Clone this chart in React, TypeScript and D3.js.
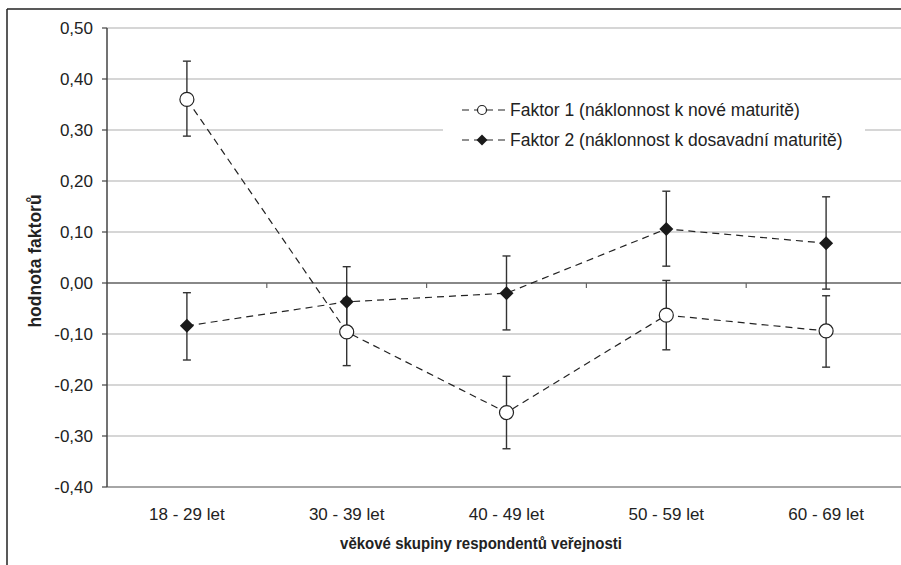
import React from 'react';
import * as d3 from 'd3';

const categories = ['18 - 29 let', '30 - 39 let', '40 - 49 let', '50 - 59 let', '60 - 69 let'];
const factor1 = [0.36, -0.096, -0.254, -0.063, -0.094];
const factor1Low = [0.288, -0.162, -0.325, -0.131, -0.165];
const factor1High = [0.435, -0.03, -0.183, 0.005, -0.025];
const factor2 = [-0.084, -0.037, -0.02, 0.106, 0.078];
const factor2Low = [-0.151, -0.106, -0.092, 0.033, -0.012];
const factor2High = [-0.019, 0.032, 0.053, 0.18, 0.169];
const yTicks = [0.5, 0.4, 0.3, 0.2, 0.1, 0, -0.1, -0.2, -0.3, -0.4];
const legendLabels = ['Faktor 1 (náklonnost k nové maturitě)', 'Faktor 2 (náklonnost k dosavadní maturitě)'];

const W = 901;
const H = 565;
const font = '"Liberation Sans", Arial, sans-serif';

// square diamond marker
const diamondPath = (r: number) => `M0,${-r}L${r},0L0,${r}L${-r},0Z`;

export default function App() {
  const x = d3.scaleBand().domain(categories).range([107, 906]);
  const y = d3.scaleLinear().domain([-0.4, 0.5]).range([487, 28]);
  const cx = (c: string) => (x(c) as number) + x.bandwidth() / 2;
  const line = d3.line<number>().x((d, i) => cx(categories[i])).y(d => y(d));
  const fmt = (v: number) => v.toFixed(2).replace('.', ',');

  const errorBars = (vals: number[], lo: number[], hi: number[], key: string) =>
    vals.map((v, i) => {
      const px = cx(categories[i]);
      return (
        <g key={key + i} stroke="#333" strokeWidth={1.4}>
          <line x1={px} x2={px} y1={y(lo[i])} y2={y(hi[i])} />
          <line x1={px - 4} x2={px + 4} y1={y(lo[i])} y2={y(lo[i])} />
          <line x1={px - 4} x2={px + 4} y1={y(hi[i])} y2={y(hi[i])} />
        </g>
      );
    });

  return (
    <svg width={W} height={H} style={{ position: 'absolute', left: 0, top: 0 }} fontFamily={font}>
      <rect width={W} height={H} fill="#fff" />
      {/* outer frame */}
      <line x1={7} x2={7} y1={9} y2={H} stroke="#222" strokeWidth={1.5} />
      <line x1={7} x2={W} y1={9} y2={9} stroke="#222" strokeWidth={1.5} />

      {/* gridlines */}
      {yTicks.map(t => (
        <line key={'g' + t} x1={107} x2={W} y1={y(t)} y2={y(t)}
          stroke={t === 0 || t === -0.4 ? '#888' : '#c8c8c8'} strokeWidth={t === 0 ? 2 : 1.5} />
      ))}
      {/* category ticks on zero line */}
      {categories.slice(1).map(c => (
        <line key={'xt' + c} x1={x(c)} x2={x(c)} y1={y(0)} y2={y(0) + 5} stroke="#666" strokeWidth={1.2} />
      ))}
      {/* y axis */}
      <line x1={107} x2={107} y1={y(0.5)} y2={y(-0.4)} stroke="#444" strokeWidth={1.5} />
      {yTicks.map(t => (
        <g key={'yt' + t}>
          <line x1={102} x2={107} y1={y(t)} y2={y(t)} stroke="#444" strokeWidth={1.2} />
          <text x={93} y={y(t)} dy="0.36em" textAnchor="end" fontSize={17} fill="#222">{fmt(t)}</text>
        </g>
      ))}
      {categories.map(c => (
        <text key={'xl' + c} x={cx(c)} y={520} textAnchor="middle" fontSize={17} fill="#222">{c}</text>
      ))}
      <text transform="translate(481,549) scale(0.91,1)" textAnchor="middle" fontSize={16.5} fontWeight="bold" fill="#222">
        věkové skupiny respondentů veřejnosti
      </text>
      <text transform={`translate(41,261) rotate(-90)`} textAnchor="middle" fontSize={17.5} fontWeight="bold" fill="#222">
        hodnota faktorů
      </text>

      {/* legend */}
      <rect x={443} y={94} width={422} height={72} fill="#fff" />
      {legendLabels.map((lab, i) => {
        const ly = 110 + i * 30;
        return (
          <g key={'lg' + i}>
            <line x1={462} x2={506} y1={ly} y2={ly} stroke="#222" strokeWidth={1.2} strokeDasharray="7,5" />
            {i === 0 ? (
              <circle cx={482} cy={ly} r={4.5} fill="#fff" stroke="#222" strokeWidth={1.2} />
            ) : (
              <path d={diamondPath(5.5)} transform={`translate(482,${ly})`} fill="#1a1a1a" />
            )}
            <text x={510} y={ly} dy="0.36em" fontSize={17.5} fill="#222">{lab}</text>
          </g>
        );
      })}

      {/* series lines */}
      <path d={line(factor1) as string} fill="none" stroke="#222" strokeWidth={1.2} strokeDasharray="7,5" />
      <path d={line(factor2) as string} fill="none" stroke="#222" strokeWidth={1.2} strokeDasharray="7,5" />

      {errorBars(factor2, factor2Low, factor2High, 'e2')}
      {errorBars(factor1, factor1Low, factor1High, 'e1')}

      {factor2.map((v, i) => (
        <path key={'d' + i} d={diamondPath(7)} transform={`translate(${cx(categories[i])},${y(v)})`} fill="#1a1a1a" />
      ))}
      {factor1.map((v, i) => (
        <circle key={'c' + i} cx={cx(categories[i])} cy={y(v)} r={7} fill="#fff" stroke="#222" strokeWidth={1.2} />
      ))}
    </svg>
  );
}
